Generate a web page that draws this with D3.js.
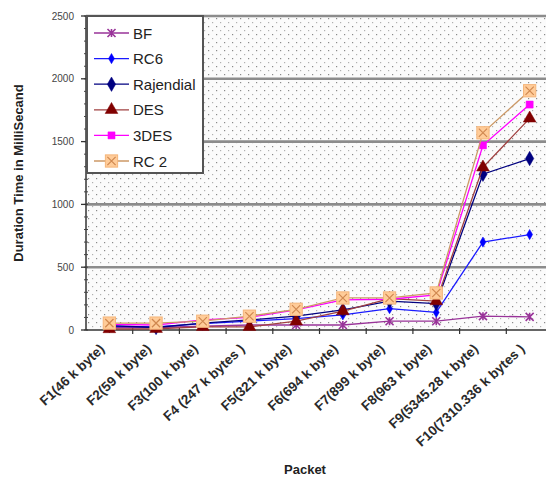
<!DOCTYPE html>
<html><head><meta charset="utf-8">
<script src="https://cdn.jsdelivr.net/npm/d3@7"></script>
<style>body{margin:0;background:#fff}svg{display:block;font-family:"Liberation Sans",Arial,sans-serif}</style>
</head><body>
<script>
const categories = ["F1(46 k byte)","F2(59 k byte)","F3(100 k byte)","F4 (247 k bytes )","F5(321 k byte)","F6(694 k byte)","F7(899 k byte)","F8(963 k byte)","F9(5345.28 k byte)","F10(7310.336 k bytes )"];
const seriesNames = ["BF","RC6","Rajendial","DES","3DES","RC 2"];
const BF = [20, 20, 30, 40, 40, 40, 70, 70, 110, 105];
const RC6 = [30, 25, 50, 70, 90, 120, 170, 140, 700, 760];
const Rajendial = [35, 20, 55, 80, 110, 160, 230, 210, 1240, 1365];
const DES = [8, 10, 25, 25, 70, 150, 250, 230, 1295, 1685];
const TDES = [45, 40, 80, 100, 160, 240, 245, 280, 1470, 1795];
const RC2 = [55, 55, 70, 110, 165, 255, 255, 295, 1570, 1905];
const yTicks = [0, 500, 1000, 1500, 2000, 2500];

const W = 546, H = 478;
const svg = d3.select("body").append("svg").attr("width", W).attr("height", H);
const x0 = 86, y0 = 330, yTop = 16;
const x = d3.scaleBand().domain(categories).range([x0, x0 + 467]);
const y = d3.scaleLinear().domain([0, 2500]).range([y0, yTop]);
const cx = d => x(d) + x.bandwidth() / 2;

// dotted pattern
const defs = svg.append("defs");
const pat = defs.append("pattern").attr("id", "dots").attr("patternUnits", "userSpaceOnUse")
  .attr("width", 8).attr("height", 8).attr("x", x0).attr("y", yTop);
pat.append("rect").attr("width", 8).attr("height", 8).attr("fill", "#fbfbfb");
pat.append("rect").attr("x", 2).attr("y", 2).attr("width", 1.2).attr("height", 1.2).attr("fill", "#8a8a8a");
pat.append("rect").attr("x", 6).attr("y", 6).attr("width", 1.2).attr("height", 1.2).attr("fill", "#b0b0b0");

svg.append("rect").attr("x", x0).attr("y", yTop).attr("width", W - x0).attr("height", y0 - yTop).attr("fill", "url(#dots)");

// gridlines
svg.append("g").selectAll("line").data(yTicks.filter(t => t > 0)).join("line")
  .attr("x1", x0).attr("x2", W).attr("y1", d => y(d)).attr("y2", d => y(d))
  .attr("stroke", "#8c8c8c").attr("stroke-width", 2.6);

// y axis
const ya = svg.append("g");
ya.append("line").attr("x1", x0).attr("x2", x0).attr("y1", y(0)).attr("y2", y(2500)).attr("stroke", "#333").attr("stroke-width", 1.5);
ya.selectAll(".mn").data(d3.range(0, 2501, 100)).join("line")
  .attr("x1", x0 - 2).attr("x2", x0 + 2).attr("y1", d => y(d)).attr("y2", d => y(d)).attr("stroke", "#444").attr("stroke-width", 1);
ya.selectAll(".mj").data(yTicks).join("line")
  .attr("x1", x0 - 5).attr("x2", x0).attr("y1", d => y(d)).attr("y2", d => y(d)).attr("stroke", "#333").attr("stroke-width", 1.3);
ya.selectAll("text").data(yTicks).join("text")
  .attr("x", x0 - 12).attr("y", d => y(d) + 3.5).attr("text-anchor", "end")
  .attr("font-size", 10).attr("fill", "#444").text(d => d);

// x axis
const xa = svg.append("g");
xa.append("line").attr("x1", x0).attr("x2", W).attr("y1", y0).attr("y2", y0).attr("stroke", "#333").attr("stroke-width", 1.5);
xa.selectAll(".tk").data(categories).join("line")
  .attr("x1", d => x(d) + x.bandwidth()).attr("x2", d => x(d) + x.bandwidth())
  .attr("y1", y0 - 2).attr("y2", y0 + 4).attr("stroke", "#333").attr("stroke-width", 1.2);
xa.selectAll("text").data(categories).join("text")
  .attr("transform", d => `translate(${cx(d) - 4},${y0 + 20}) rotate(-43)`)
  .attr("text-anchor", "end").attr("font-size", 13.5).attr("font-weight", "bold").attr("fill", "#2a2a2a")
  .text(d => d);

// titles
svg.append("text").attr("transform", `translate(23,${(y0 + yTop) / 2}) rotate(-90)`)
  .attr("text-anchor", "middle").attr("font-size", 13).attr("font-weight", "bold").attr("fill", "#222")
  .text("Duration Time in MilliSecand");
svg.append("text").attr("x", 305).attr("y", 474).attr("text-anchor", "middle")
  .attr("font-size", 13).attr("font-weight", "bold").attr("fill", "#222").text("Packet");

// series
const series = [
  {name: seriesNames[0], values: BF, line: "#993399", type: "ast", fill: "#cc66cc", stroke: "#993399", size: 60},
  {name: seriesNames[1], values: RC6, line: "#1a1aff", type: "dia", fill: "#0000ff", stroke: "#0000ff", size: 30},
  {name: seriesNames[2], values: Rajendial, line: "#000080", type: "dia", fill: "#000080", stroke: "#000080", size: 60},
  {name: seriesNames[3], values: DES, line: "#a04040", type: "tri", fill: "#800000", stroke: "#800000", size: 70},
  {name: seriesNames[4], values: TDES, line: "#ff00ff", type: "sq", fill: "#ff00ff", stroke: "#ff00ff", size: 50},
  {name: seriesNames[5], values: RC2, line: "#cc9966", type: "box", fill: "#ffcc99", stroke: "#f5b57a", size: 150}
];

function drawMarker(g, s, px, py) {
  if (s.type === "box") {
    const h = Math.sqrt(s.size) / 2;
    g.append("rect").attr("x", px - h).attr("y", py - h).attr("width", 2 * h).attr("height", 2 * h)
      .attr("fill", s.fill).attr("stroke", s.stroke).attr("stroke-width", 1);
    g.append("path").attr("d", `M${px - h + 2},${py - h + 2}L${px + h - 2},${py + h - 2}M${px + h - 2},${py - h + 2}L${px - h + 2},${py + h - 2}`)
      .attr("stroke", "#d08850").attr("stroke-width", 1.2).attr("fill", "none");
  } else if (s.type === "ast") {
    const r = 4;
    g.append("path").attr("d", `M${px - r},${py - r}L${px + r},${py + r}M${px + r},${py - r}L${px - r},${py + r}M${px},${py - r}L${px},${py + r}`)
      .attr("stroke", s.stroke).attr("stroke-width", 1.6).attr("fill", "none");
  } else {
    const sym = s.type === "dia" ? d3.symbolDiamond : s.type === "tri" ? d3.symbolTriangle : d3.symbolSquare;
    g.append("path").attr("transform", `translate(${px},${py})`).attr("d", d3.symbol(sym, s.size)())
      .attr("fill", s.fill).attr("stroke", s.stroke).attr("stroke-width", 0.5);
  }
}

const line = d3.line().x((d, i) => cx(categories[i])).y(d => y(d));
series.forEach(s => {
  const g = svg.append("g");
  g.append("path").attr("d", line(s.values)).attr("fill", "none").attr("stroke", s.line).attr("stroke-width", 1.3);
  s.values.forEach((v, i) => drawMarker(g, s, cx(categories[i]), y(v)));
});

// legend
const lg = svg.append("g");
lg.append("rect").attr("x", 87).attr("y", 16).attr("width", 116).attr("height", 157)
  .attr("fill", "#fff").attr("stroke", "#555").attr("stroke-width", 2);
series.forEach((s, i) => {
  const ly = 33 + i * 25.6;
  lg.append("line").attr("x1", 94).attr("x2", 129).attr("y1", ly).attr("y2", ly).attr("stroke", s.line).attr("stroke-width", 1.3);
  drawMarker(lg, s, 111.5, ly);
  lg.append("text").attr("x", 133).attr("y", ly + 5.5).attr("font-size", 15).attr("fill", "#222").text(s.name);
});
</script>
</body></html>
